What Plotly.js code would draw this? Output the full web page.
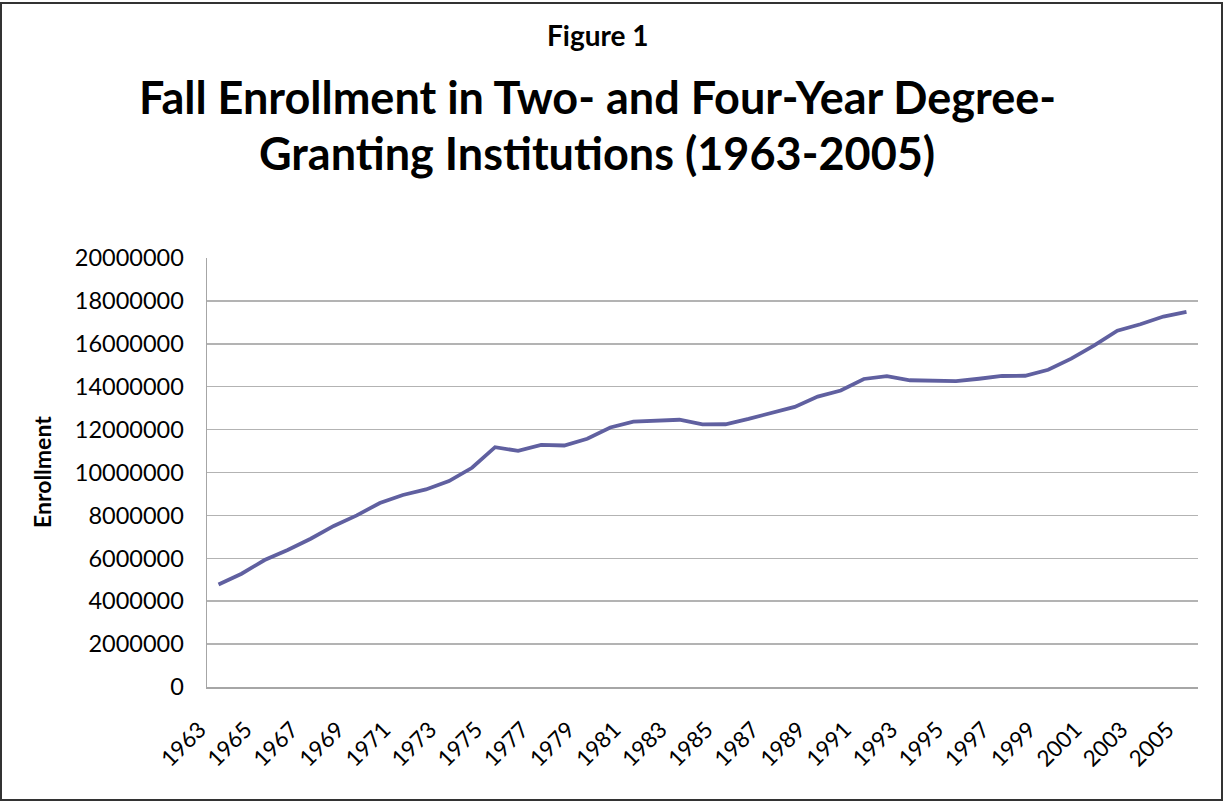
<!DOCTYPE html>
<html>
<head>
<meta charset="utf-8">
<script src="https://cdn.plot.ly/plotly-3.0.1.min.js"></script>
<style>
  html, body { margin: 0; padding: 0; background: #fff; }
  #chart { width: 1225px; height: 802px; position: relative; }
  #frame { position: absolute; left: 0px; top: 2px; width: 1219px; height: 795px; border: 2px solid #333; pointer-events: none; }
</style>
</head>
<body>
<div id="chart"></div>
<div id="frame"></div>
<script>
const years = ['1963','1964','1965','1966','1967','1968','1969','1970','1971','1972','1973','1974','1975','1976','1977','1978','1979','1980','1981','1982','1983','1984','1985','1986','1987','1988','1989','1990','1991','1992','1993','1994','1995','1996','1997','1998','1999','2000','2001','2002','2003','2004','2005'];
const enrollment = [4780000,5280000,5920000,6390000,6910000,7510000,8000000,8580000,8950000,9210000,9600000,10220000,11180000,11010000,11290000,11260000,11570000,12100000,12370000,12430000,12460000,12240000,12250000,12500000,12770000,13060000,13540000,13820000,14360000,14490000,14300000,14280000,14260000,14370000,14500000,14510000,14790000,15310000,15930000,16610000,16910000,17270000,17490000];
const tickYears = years.filter((y, i) => i % 2 === 0);
const yTicks = [0,2000000,4000000,6000000,8000000,10000000,12000000,14000000,16000000,18000000,20000000];

const FONT = 'Lato, "Open Sans", sans-serif';
const PL = 207, PR = 1198, PT = 258, PB = 687;
const px = x => (x - PL) / (PR - PL);
const py = y => (PB - y) / (PB - PT);

const trace = {
  type: 'scatter', mode: 'lines',
  x: years, y: enrollment,
  line: { color: '#6060a0', width: 3.8 },
  hoverinfo: 'x+y'
};

const layout = {
  width: 1225, height: 802,
  margin: { l: PL, r: 1225 - PR, t: PT, b: 802 - PB },
  paper_bgcolor: '#fff', plot_bgcolor: '#fff',
  showlegend: false,
  font: { family: FONT, color: '#000' },
  xaxis: {
    type: 'category',
    range: [-0.5, years.length - 0.5],
    tickmode: 'array', tickvals: tickYears, ticktext: tickYears,
    tickangle: -45,
    tickfont: { size: 22.5, family: FONT },
    showgrid: false, zeroline: false,
    showline: true, linecolor: '#a6a6a6', linewidth: 1.5,
    ticks: '', ticklabelstandoff: 19, ticklabelshift: -19
  },
  yaxis: {
    range: [0, 20000000],
    tickmode: 'array', tickvals: yTicks, ticktext: yTicks.map(String),
    tickfont: { size: 23.5, family: FONT },
    showgrid: true, gridcolor: '#b3b3b3', gridwidth: 1.5,
    zeroline: false,
    showline: true, linecolor: '#a6a6a6', linewidth: 1.5,
    ticks: '', ticklabelstandoff: 17
  },
  annotations: [
    { text: '<b>Figure 1</b>', xref: 'paper', yref: 'paper', x: px(598), y: py(35), xanchor: 'center', yanchor: 'middle', showarrow: false, font: { size: 28, family: FONT } },
    { text: '<b>Fall Enrollment in Two- and Four-Year Degree-</b>', xref: 'paper', yref: 'paper', x: px(597), y: py(97), xanchor: 'center', yanchor: 'middle', showarrow: false, font: { size: 45, family: FONT } },
    { text: '<b>Granting Institutions (1963-2005)</b>', xref: 'paper', yref: 'paper', x: px(597), y: py(153), xanchor: 'center', yanchor: 'middle', showarrow: false, font: { size: 45, family: FONT } },
    { text: '<b>Enrollment</b>', xref: 'paper', yref: 'paper', x: px(42), y: py(472), xanchor: 'center', yanchor: 'middle', textangle: -90, showarrow: false, font: { size: 23, family: FONT } }
  ]
};

Plotly.newPlot('chart', [trace], layout, { displayModeBar: false, staticPlot: true });
</script>
</body>
</html>
